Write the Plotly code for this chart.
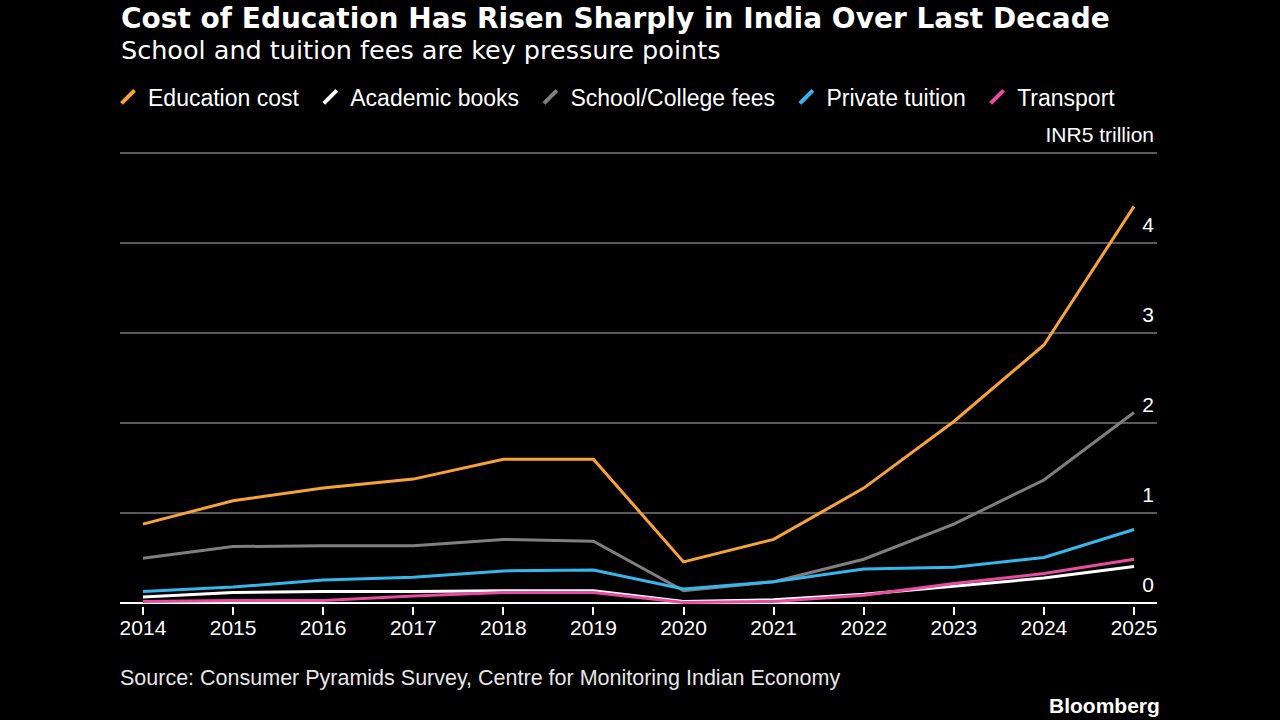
import plotly.graph_objects as go

years = [2014, 2015, 2016, 2017, 2018, 2019, 2020, 2021, 2022, 2023, 2024, 2025]
education_cost = [0.88, 1.14, 1.28, 1.38, 1.60, 1.60, 0.46, 0.71, 1.28, 2.02, 2.87, 4.41]
academic_books = [0.07, 0.12, 0.13, 0.13, 0.14, 0.14, 0.02, 0.04, 0.10, 0.19, 0.28, 0.41]
school_fees = [0.50, 0.63, 0.64, 0.64, 0.71, 0.69, 0.14, 0.24, 0.49, 0.88, 1.37, 2.12]
private_tuition = [0.13, 0.18, 0.26, 0.29, 0.36, 0.37, 0.16, 0.24, 0.38, 0.40, 0.51, 0.82]
transport = [0.02, 0.03, 0.03, 0.08, 0.12, 0.12, 0.01, 0.02, 0.09, 0.22, 0.33, 0.49]

series_names = ["Education cost", "Academic books", "School/College fees", "Private tuition", "Transport"]
series_values = [education_cost, academic_books, school_fees, private_tuition, transport]
series_colors = ["#F7A23B", "#FFFFFF", "#7F7F7F", "#35B6EC", "#E94BA3"]

y_ticks = [0, 1, 2, 3, 4, 5]
y_ticktext = ["0", "1", "2", "3", "4", "INR5 trillion"]

title = "Cost of Education Has Risen Sharply in India Over Last Decade"
subtitle = "School and tuition fees are key pressure points"
source = "Source: Consumer Pyramids Survey, Centre for Monitoring Indian Economy"

FONT = "Liberation Sans"
TFONT = "DejaVu Sans"

# plot area in pixels
L, R, T, B = 120, 1157, 113, 606
W, H = 1280, 720
YMIN = -0.03
YMAX = (B - T) / 90 + YMIN


def px(x):
    return (x - L) / (R - L)


def py(y):
    return (B - y) / (B - T)


fig = go.Figure()
for name, vals, col in zip(series_names, series_values, series_colors):
    fig.add_trace(go.Scatter(x=years, y=vals, mode="lines", name=name,
                             line=dict(color=col, width=3), showlegend=False,
                             hoverinfo="skip"))
# legend-only entries with slash symbols
for name, col in zip(series_names, series_colors):
    fig.add_trace(go.Scatter(x=[None], y=[None], mode="markers", name=name + "\u00a0",
                             marker=dict(symbol="line-ne", size=13,
                                         line=dict(color=col, width=4)),
                             showlegend=True))

fig.update_layout(
    width=W, height=H,
    paper_bgcolor="#000000", plot_bgcolor="#000000",
    margin=dict(l=L, r=W - R, t=T, b=H - B, autoexpand=False),
    font=dict(family=FONT, color="#FFFFFF", size=21),
    legend=dict(orientation="h", x=(L - 12) / W, xref="container", y=1 - 97 / H, yref="container",
                yanchor="middle", xanchor="left",
                font=dict(size=23, color="#FFFFFF"), bgcolor="rgba(0,0,0,0)",
                itemwidth=30, traceorder="normal"),
    xaxis=dict(range=[2013.745, 2025.255], tickmode="array", tickvals=years,
               ticktext=[str(y) for y in years], showgrid=False, zeroline=False,
               showline=False, ticks="outside", ticklen=8, tickwidth=1.5,
               tickcolor="#FFFFFF", tickfont=dict(size=21, color="#FFFFFF"),
               ticklabelstandoff=-5, ticklabeloverflow="allow", fixedrange=True),
    yaxis=dict(range=[YMIN, YMAX], side="right", tickmode="array", tickvals=y_ticks,
               ticktext=y_ticktext, ticklabelposition="inside top", ticklabelshift=-4,
               ticklabeloverflow="allow",
               showgrid=True, gridcolor="#5A5A5A", gridwidth=1.5,
               zeroline=True, zerolinecolor="#FFFFFF", zerolinewidth=2,
               showline=False, ticks="", tickfont=dict(size=21, color="#FFFFFF"),
               fixedrange=True),
)

fig.add_annotation(text=f"<b>{title}</b>", x=px(119), y=py(18), xref="paper", yref="paper",
                   xanchor="left", yanchor="middle", showarrow=False,
                   font=dict(size=28, color="#FFFFFF", family=TFONT))
fig.add_annotation(text=subtitle, x=px(119), y=py(50), xref="paper", yref="paper",
                   xanchor="left", yanchor="middle", showarrow=False,
                   font=dict(size=25.5, color="#FFFFFF", family=TFONT))
fig.add_annotation(text=source, x=px(118), y=py(678), xref="paper", yref="paper",
                   xanchor="left", yanchor="middle", showarrow=False,
                   font=dict(size=21.5, color="#E6E6E6", family=FONT))
fig.add_annotation(text="<b>Bloomberg</b>", x=px(1162), y=py(705), xref="paper", yref="paper",
                   xanchor="right", yanchor="middle", showarrow=False,
                   font=dict(size=21, color="#FFFFFF", family=FONT))

fig.write_html("out.html")
